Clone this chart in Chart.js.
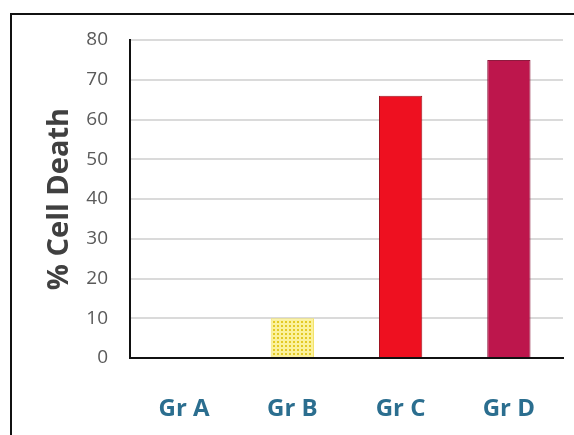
<!DOCTYPE html>
<html>
<head>
<meta charset="utf-8">
<script src="https://cdn.jsdelivr.net/npm/chart.js@4/dist/chart.umd.min.js"></script>
<style>
  html, body { margin: 0; padding: 0; background: #fff; }
  #wrap { position: relative; width: 574px; height: 435px; }
  #frame {
    position: absolute; left: 10px; top: 13px; width: 580px; height: 440px;
    border-left: 2px solid #111; border-top: 2px solid #111;
  }
  canvas { position: absolute; left: 0; top: 0; }
</style>
</head>
<body>
<div id="wrap">
  <div id="frame"></div>
  <canvas id="deathChart" width="574" height="435"></canvas>
</div>
<script>
const groups = ["Gr A", "Gr B", "Gr C", "Gr D"];
const cellDeath = [0, 10, 66, 75];
const yTicks = [0, 10, 20, 30, 40, 50, 60, 70, 80];

// dotted yellow fill for Gr B
function dotPattern() {
  const c = document.createElement("canvas");
  c.width = 4;
  c.height = 4;
  const g = c.getContext("2d");
  g.fillStyle = "#fbf19c";
  g.fillRect(0, 0, 4, 4);
  g.fillStyle = "#e3c925";
  g.fillRect(1, 1, 2, 2);
  return g.createPattern(c, "repeat");
}

const ctx = document.getElementById("deathChart").getContext("2d");
const fills = ["#e9d64a", dotPattern(), "#ee1020", "#bd164c"];
const edges = ["#c9b020", "#f3e36a", "#9c1420", "#8e1a3e"];

const deathChart = new Chart(ctx, {
  type: "bar",
  data: {
    labels: groups,
    datasets: [
      {
        data: cellDeath,
        backgroundColor: fills,
        borderColor: edges,
        borderWidth: 1,
        categoryPercentage: 1,
        barPercentage: 0.4,
      },
    ],
  },
  options: {
    responsive: false,
    animation: false,
    layout: { padding: { left: 10, right: 11, top: 40, bottom: 0 } },
    plugins: {
      legend: { display: false },
      tooltip: { enabled: false },
    },
    scales: {
      x: {
        grid: { display: false },
        border: { color: "#111", width: 2 },
        ticks: {
          color: "#2b6e8f",
          font: { family: "Open Sans", size: 24, weight: "bold" },
          padding: 29,
        },
        afterFit: (axis) => {
          axis.height = 77;
        },
      },
      y: {
        min: 0,
        max: 80,
        afterBuildTicks: (axis) => {
          axis.ticks = yTicks.map((v) => ({ value: v }));
        },
        grid: { color: "#dadada", lineWidth: 2, drawTicks: false },
        border: { color: "#111", width: 2 },
        ticks: {
          color: "#5a5a5a",
          font: { family: "Open Sans", size: 19 },
          padding: 22,
        },
        title: {
          display: true,
          text: "% Cell Death",
          color: "#404040",
          font: { family: "Open Sans", size: 29, weight: "bold" },
          padding: { top: 32, bottom: 4 },
        },
        afterFit: (axis) => {
          axis.width = 120;
        },
      },
    },
  },
});
</script>
</body>
</html>
